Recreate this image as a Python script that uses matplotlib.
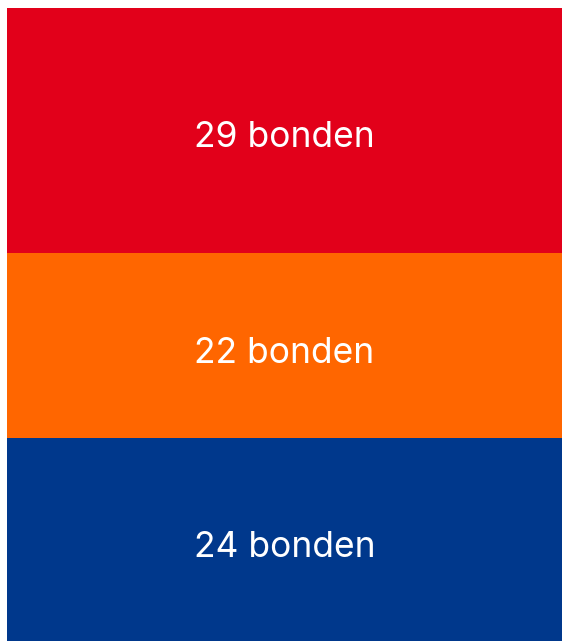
import numpy as np
import matplotlib.pyplot as plt

# aantal bonden per groep (van boven naar beneden)
labels = ["29 bonden", "22 bonden", "24 bonden"]
values = [29, 22, 24]
colors = ["#E2001A", "#FF6600", "#00388C"]

fig = plt.figure(figsize=(5.62, 6.41), dpi=100)
ax = fig.add_axes([7 / 562, 0, 555 / 562, 633 / 641])

bottoms = np.cumsum([0] + values[:-1])
ax.bar(0, values, bottom=bottoms, width=1.0, color=colors, edgecolor="none")

for lab, v, b in zip(labels, values, bottoms):
    ax.text(0, b + v / 2 + 0.9, lab, ha="center", va="center",
            color="white", fontsize=25.5, family=["Inter", "DejaVu Sans"])

ax.set_xlim(-0.5, 0.5)
ax.set_ylim(sum(values), 0)
ax.axis("off")

fig.savefig("out.png", dpi=100)
plt.close(fig)
